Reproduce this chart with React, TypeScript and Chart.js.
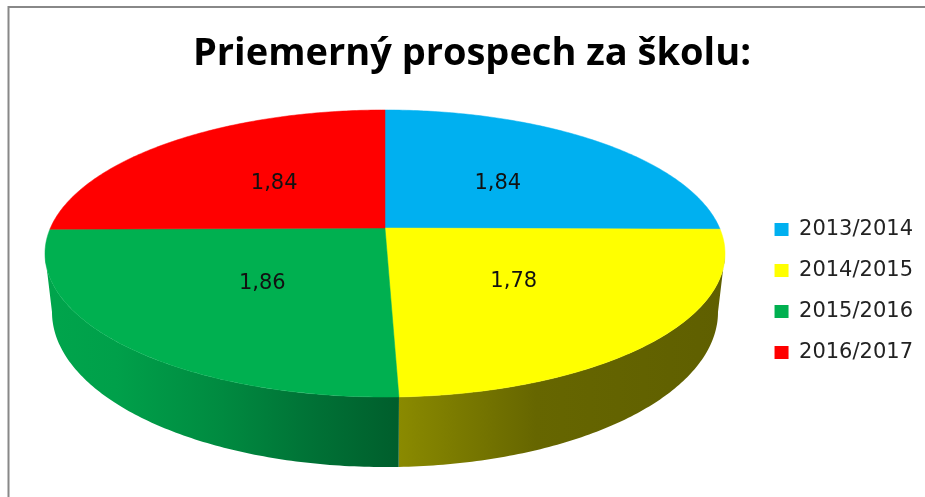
import React, { useEffect, useRef } from "react";
import { Chart, registerables } from "chart.js";

Chart.register(...registerables);

const title = "Priemerný prospech za školu:";
const categories = ["2013/2014", "2014/2015", "2015/2016", "2016/2017"];
const values = [1.84, 1.78, 1.86, 1.84];
const sliceColors = ["#00B0F0", "#FFFF00", "#00B050", "#FF0000"];

const tilt = 0.1777;
const topFace = { cx: 385, cy: 228, a: 334.6, b: 139 };
const bottomFace = { cx: 385, cy: 284.5, a: 327.7, b: 150.1 };

type Face = typeof topFace;
const project = (f: Face, angle: number, r = 1) => {
  const X = r * Math.cos(angle);
  const Y = r * Math.sin(angle);
  const w = 1 - tilt * Y;
  return { x: f.cx + (f.a * X) / w, y: f.cy + (f.b * Y) / w };
};

const sampled = (from: number, to: number) => {
  const n = Math.max(2, Math.ceil(Math.abs(to - from) * 80));
  return Array.from({ length: n + 1 }, (_, i) => from + ((to - from) * i) / n);
};

const pie3d = {
  id: "pie3d",
  beforeDraw(chart: any) {
    const { ctx, width, height } = chart;
    ctx.save();
    ctx.fillStyle = "#fff";
    ctx.fillRect(0, 0, width, height);
    ctx.strokeStyle = "#888";
    ctx.lineWidth = 2;
    ctx.strokeRect(8.5, 7, width + 20, height + 20);
    ctx.restore();
  },
  beforeDatasetDraw(chart: any) {
    const { ctx } = chart;
    const arcs = chart.getDatasetMeta(0).data;
    const limit = Math.asin(tilt);
    const rimStart = limit; // right-most point of the ellipse
    const rimEnd = Math.PI - limit; // left-most point of the ellipse

    const wall = (from: number, to: number, fill: any) => {
      ctx.beginPath();
      sampled(from, to).forEach((a) => {
        const p = project(topFace, a);
        ctx.lineTo(p.x, p.y);
      });
      sampled(to, from).forEach((a) => {
        const p = project(bottomFace, a);
        ctx.lineTo(p.x, p.y);
      });
      ctx.closePath();
      ctx.fillStyle = fill;
      ctx.fill();
    };

    const split = arcs[1].endAngle;
    const yellow = ctx.createLinearGradient(399, 0, 725, 0);
    yellow.addColorStop(0, "#8a8a00");
    yellow.addColorStop(0.22, "#777700");
    yellow.addColorStop(0.42, "#666600");
    yellow.addColorStop(1, "#5f5f00");
    const green = ctx.createLinearGradient(45, 0, 399, 0);
    green.addColorStop(0, "#00a54c");
    green.addColorStop(0.2, "#00a04a");
    green.addColorStop(0.5, "#008a40");
    green.addColorStop(0.75, "#007236");
    green.addColorStop(1, "#005e2c");
    wall(rimStart, split, yellow);
    wall(split, rimEnd, green);

    arcs.forEach((arc: any, i: number) => {
      ctx.beginPath();
      ctx.moveTo(topFace.cx, topFace.cy);
      sampled(arc.startAngle, arc.endAngle).forEach((a) => {
        const p = project(topFace, a);
        ctx.lineTo(p.x, p.y);
      });
      ctx.closePath();
      ctx.fillStyle = sliceColors[i];
      ctx.strokeStyle = sliceColors[i];
      ctx.lineWidth = 0.5;
      ctx.fill();
      ctx.stroke();
    });

    ctx.fillStyle = "#111";
    ctx.font = "21px 'DejaVu Sans'";
    ctx.textAlign = "center";
    ctx.textBaseline = "middle";
    arcs.forEach((arc: any, i: number) => {
      const p = project(topFace, (arc.startAngle + arc.endAngle) / 2, 0.5);
      ctx.fillText(values[i].toFixed(2).replace(".", ","), p.x + 1, p.y + 2);
    });
    return false;
  },
};

export default function App() {
  const ref = useRef<HTMLCanvasElement>(null);
  useEffect(() => {
    document.body.style.margin = "0";
    const chart = new Chart(ref.current!, {
      type: "pie",
      data: {
        labels: categories,
        datasets: [{ data: values, backgroundColor: sliceColors, borderWidth: 0 }],
      },
      options: {
        responsive: false,
        animation: false,
        layout: { padding: { left: 21, right: 2, top: 31, bottom: 114 } },
        plugins: {
          tooltip: { enabled: false },
          title: {
            display: true,
            text: title,
            color: "#000",
            font: { family: "Open Sans", size: 38, weight: "bold" },
            padding: { top: 0, bottom: 10 },
          },
          legend: {
            position: "right",
            align: "end",
            labels: {
              boxWidth: 14,
              boxHeight: 13,
              padding: 20,
              color: "#222",
              font: { family: "DejaVu Sans", size: 21 },
            },
          },
        },
      },
      plugins: [pie3d],
    } as any);
    return () => chart.destroy();
  }, []);
  return <canvas ref={ref} width={925} height={497} style={{ display: "block" }} />;
}
